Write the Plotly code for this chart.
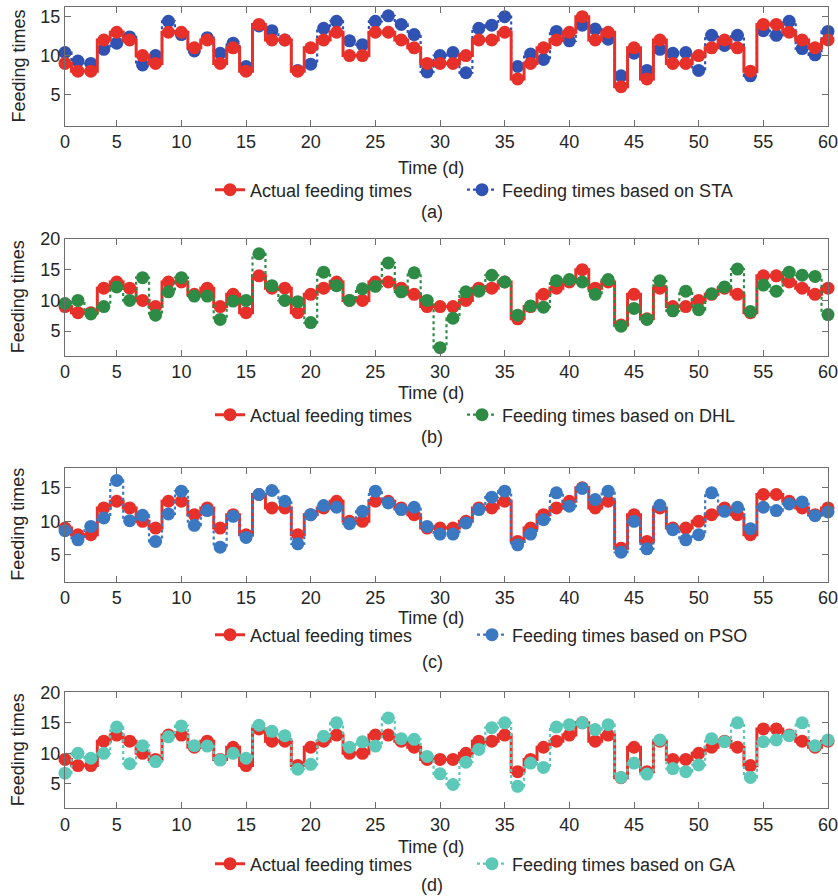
import plotly.graph_objects as go

# ---------------- data ----------------
days = list(range(1, 61))
x_tick_vals = [1, 5, 10, 15, 20, 25, 30, 35, 40, 45, 50, 55, 60]
x_tick_text = ["0", "5", "10", "15", "20", "25", "30", "35", "40", "45", "50", "55", "60"]

actual = [9, 8, 8, 12, 13, 12, 10, 9, 13, 13,
          11, 12, 9, 11, 8, 14, 12, 12, 8, 11,
          12, 13, 10, 10, 13, 13, 12, 11, 9, 9,
          9, 10, 12, 12, 13, 7, 9, 11, 12, 13,
          15, 12, 13, 6, 11, 7, 12, 9, 9, 10,
          11, 12, 11, 8, 14, 14, 13, 12, 11, 12]

sta = [10.4, 9.3, 9.0, 10.8, 11.6, 12.4, 8.8, 10.0, 14.4, 12.7,
       10.6, 12.3, 10.3, 11.6, 8.6, 13.8, 13.2, 12.0, 8.1, 8.9,
       13.5, 14.4, 11.9, 11.4, 14.4, 15.1, 14.0, 12.7, 7.9, 10.0,
       10.4, 7.8, 13.5, 13.9, 15.0, 8.6, 10.2, 9.5, 13.1, 11.9,
       13.9, 13.4, 12.1, 7.4, 10.3, 8.1, 10.8, 10.3, 10.4, 8.1,
       12.6, 11.3, 12.6, 7.4, 13.2, 12.6, 14.4, 10.9, 10.1, 13.1]

dhl = [9.5, 10.0, 7.8, 9.0, 12.2, 10.0, 13.7, 7.6, 11.4, 13.7,
       10.7, 10.7, 6.9, 9.9, 10.0, 17.6, 12.4, 10.0, 9.8, 6.4,
       14.6, 12.4, 10.0, 11.9, 12.3, 16.1, 11.4, 14.5, 10.0, 2.3,
       7.1, 11.4, 11.5, 14.1, 13.0, 7.6, 9.1, 8.9, 13.2, 13.4,
       13.0, 11.0, 13.4, 5.8, 8.7, 6.9, 13.2, 8.3, 11.5, 8.5,
       11.1, 12.2, 15.1, 8.2, 12.5, 11.5, 14.6, 14.1, 13.9, 7.7]

pso = [8.6, 7.25, 9.25, 10.5, 16.1, 10.1, 10.9, 7.0, 11.1, 14.5,
       9.4, 11.6, 6.15, 10.75, 7.6, 14.0, 14.6, 13.0, 6.65, 11.0,
       12.35, 12.1, 9.65, 11.5, 14.5, 12.75, 11.75, 12.1, 9.25, 8.1,
       8.1, 9.75, 11.75, 13.6, 14.5, 6.5, 8.1, 10.25, 14.25, 12.25,
       14.9, 13.25, 14.5, 5.4, 10.0, 5.9, 12.4, 8.75, 7.25, 8.0,
       14.25, 11.5, 12.1, 8.9, 12.1, 11.6, 12.6, 12.9, 10.85, 11.4]

ga = [6.75, 10.0, 9.2, 10.0, 14.3, 8.3, 11.25, 8.65, 12.7, 14.5,
      11.25, 11.2, 8.9, 10.0, 9.2, 14.6, 13.6, 12.9, 7.4, 8.2,
      12.8, 15.0, 11.0, 11.9, 11.2, 15.8, 12.4, 12.3, 9.5, 6.65,
      4.9, 8.55, 10.65, 14.2, 15.0, 4.6, 8.4, 7.7, 14.3, 14.7,
      15.0, 13.9, 14.7, 6.05, 8.4, 6.6, 12.2, 7.5, 7.0, 8.1,
      12.4, 11.9, 15.0, 6.05, 11.9, 12.2, 12.9, 15.0, 11.25, 12.2]

panel_labels = ["(a)", "(b)", "(c)", "(d)"]
method_names = ["STA", "DHL", "PSO", "GA"]
method_values = [sta, dhl, pso, ga]
y_ranges = [[1, 16.2], [1, 20], [1, 18], [1, 20]]
y_tick_sets = [[5, 10, 15], [5, 10, 15, 20], [5, 10, 15], [5, 10, 15, 20]]

# ---------------- styling ----------------
W, H = 838, 896
ML, MR = 65, 10
PW = W - ML - MR
RED = "#E8302A"
method_colors = ["#2F52B3", "#2E8B45", "#3B78C2", "#5CC8B8"]
TXT = "#262626"
AX = "#6E6E6E"
FONT = "Liberation Sans, Arial, Helvetica, sans-serif"

# panel plot-area pixel bounds (top, bottom)
panel_px = [(7.3, 125.7), (239, 355.7), (467.7, 581.7), (692.3, 808.3)]
xlabel_px = [167.7, 393, 618, 847]
tag_px = [212, 437, 662, 885]
legend_px = [190, 415, 635, 864]
legend1_x_px = 210
legend2_x_px = [462, 462, 472, 472]


def py(p):
    return 1 - p / H


def px(p):
    return (p - ML) / PW


fig = go.Figure()
annotations = []
layout = {}

for i in range(4):
    sfx = "" if i == 0 else str(i + 1)
    xa, ya = "x" + sfx, "y" + sfx
    la1 = "legend" + ("" if i == 0 else str(2 * i + 1))
    la2 = "legend" + str(2 * i + 2)

    tr_actual = go.Scatter(
        x=days, y=actual, xaxis=xa, yaxis=ya, name="Actual feeding times",
        mode="lines+markers", line=dict(color=RED, width=3, shape="hvh"),
        marker=dict(color=RED, size=13), cliponaxis=False, legend=la1)
    tr_pred = go.Scatter(
        x=days, y=method_values[i], xaxis=xa, yaxis=ya,
        name="Feeding times based on " + method_names[i],
        mode="lines+markers",
        line=dict(color=method_colors[i], width=2.2, shape="hvh", dash="dot"),
        marker=dict(color=method_colors[i], size=13), cliponaxis=False, legend=la2)
    if i == 0:
        fig.add_trace(tr_pred)
        fig.add_trace(tr_actual)
    else:
        fig.add_trace(tr_actual)
        fig.add_trace(tr_pred)

    top, bot = panel_px[i]
    layout["xaxis" + sfx] = dict(
        domain=[0, 1], anchor=ya, range=[1, 60], automargin=False,
        tickmode="array", tickvals=x_tick_vals, ticktext=x_tick_text,
        ticks="inside", ticklen=6, tickcolor=AX, showline=True, linecolor=AX,
        linewidth=1, mirror="ticks", showgrid=False, zeroline=False,
        ticklabeloverflow="allow",
        tickfont=dict(size=18, color=TXT, family=FONT))
    layout["yaxis" + sfx] = dict(
        domain=[py(bot), py(top)], anchor=xa, range=y_ranges[i], automargin=False,
        tickmode="array", tickvals=y_tick_sets[i],
        ticks="inside", ticklen=6, tickcolor=AX, showline=True, linecolor=AX,
        linewidth=1, mirror="ticks", showgrid=False, zeroline=False,
        ticklabeloverflow="allow",
        tickfont=dict(size=18, color=TXT, family=FONT))

    common_leg = dict(orientation="h", xanchor="left", yanchor="middle",
                      y=py(legend_px[i]), bgcolor="rgba(0,0,0,0)",
                      font=dict(size=18, color=TXT, family=FONT),
                      itemwidth=30)
    layout[la1] = dict(common_leg, x=px(legend1_x_px))
    layout[la2] = dict(common_leg, x=px(legend2_x_px[i]))

    annotations.append(dict(text="Time (d)", x=px(431), y=py(xlabel_px[i]),
                            xref="paper", yref="paper", showarrow=False,
                            xanchor="center", yanchor="middle",
                            font=dict(size=18, color=TXT, family=FONT)))
    annotations.append(dict(text=panel_labels[i], x=px(432), y=py(tag_px[i]),
                            xref="paper", yref="paper", showarrow=False,
                            xanchor="center", yanchor="middle",
                            font=dict(size=18, color=TXT, family=FONT)))
    annotations.append(dict(text="Feeding times", x=px(18), y=py((top + bot) / 2),
                            xref="paper", yref="paper", showarrow=False,
                            textangle=-90, xanchor="center", yanchor="middle",
                            font=dict(size=18, color=TXT, family=FONT)))

fig.update_layout(
    width=W, height=H,
    margin=dict(l=ML, r=MR, t=0, b=0, autoexpand=False),
    paper_bgcolor="white", plot_bgcolor="white",
    font=dict(family=FONT, color=TXT),
    showlegend=True,
    annotations=annotations,
    **layout)

fig.write_html("out.html")
